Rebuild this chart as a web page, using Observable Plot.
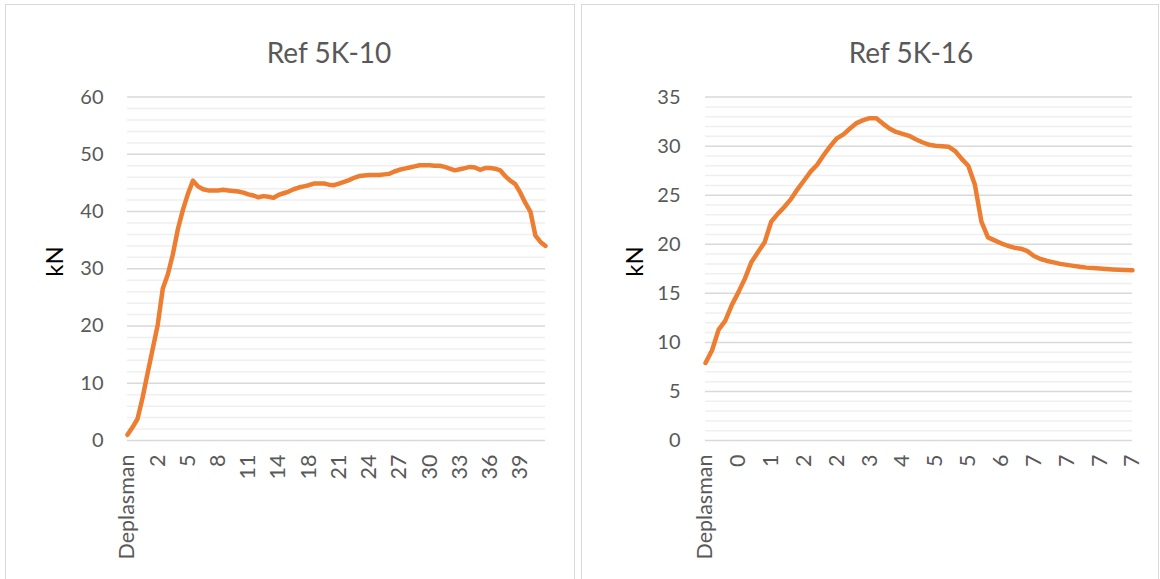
<!DOCTYPE html>
<html><head><meta charset="utf-8">
<script src="https://cdn.jsdelivr.net/npm/d3@7"></script>
<script src="https://cdn.jsdelivr.net/npm/@observablehq/plot@0.6"></script>
<style>
body{margin:0;background:#fff;width:1160px;height:579px;overflow:hidden;position:relative;font-family:Lato,"Open Sans",sans-serif;}
.panel{position:absolute;top:4px;height:600px;border:1px solid #d9d9d9;box-sizing:border-box;}
.title{position:absolute;top:38px;width:300px;font-size:28px;line-height:28px;color:#595959;text-align:center;white-space:nowrap;}
.chart{position:absolute;top:6px;}
</style></head><body>
<div class="panel" style="left:5px;width:570px"></div>
<div class="panel" style="left:581px;width:578px"></div>
<div class="title" style="left:179px">Ref 5K-10</div>
<div class="title" style="left:761px">Ref 5K-16</div>
<div id="c1" class="chart" style="left:6px"></div>
<div id="c2" class="chart" style="left:583px"></div>
<script>
// Chart 1: Ref 5K-10
const title10 = "Ref 5K-10";
const labels10 = ["Deplasman","2","5","8","11","14","18","21","24","27","30","33","36","39"];
const kN10 = [1.0,2.3,3.8,7.5,11.8,16.0,20.2,26.5,29.0,32.5,36.9,40.3,43.1,45.4,44.4,43.9,43.7,43.7,43.7,43.8,43.7,43.6,43.5,43.3,43.0,42.8,42.5,42.7,42.6,42.4,42.9,43.2,43.5,43.9,44.2,44.4,44.6,44.9,44.9,44.9,44.7,44.6,44.9,45.2,45.5,45.9,46.2,46.3,46.4,46.4,46.4,46.5,46.6,47.0,47.3,47.5,47.7,47.9,48.1,48.1,48.1,48.0,48.0,47.8,47.5,47.2,47.4,47.6,47.8,47.7,47.3,47.6,47.6,47.5,47.2,46.2,45.4,44.8,43.3,41.5,40.0,35.8,34.7,34.0];
const labelStep10 = 6;
const yMax10 = 60, yMajor10 = 10, yMinor10 = 2;

// Chart 2: Ref 5K-16
const title16 = "Ref 5K-16";
const labels16 = ["Deplasman","0","1","2","2","3","4","5","5","6","7","7","7","7"];
const kN16 = [7.9,9.2,11.3,12.2,13.8,15.1,16.5,18.2,19.2,20.2,22.3,23.1,23.8,24.6,25.6,26.5,27.4,28.1,29.1,30.0,30.8,31.2,31.8,32.35,32.65,32.85,32.85,32.3,31.8,31.45,31.25,31.05,30.7,30.4,30.15,30.05,30.0,29.95,29.5,28.7,28.0,26.1,22.3,20.7,20.4,20.1,19.85,19.65,19.55,19.3,18.8,18.5,18.3,18.15,18.0,17.9,17.8,17.7,17.62,17.57,17.52,17.47,17.43,17.4,17.37,17.35];
const labelStep16 = 5;
const yMax16 = 35, yMajor16 = 5, yMinor16 = 1;

const yLabel = "kN";

function makeChart({values, labels, step, yMax, major, minor, width, marginLeft, marginRight, yPad, labelDx}) {
  const data = values.map((v, i) => ({i, v}));
  const tickIdx = labels.map((_, k) => k * step);
  const labelMap = new Map(tickIdx.map((t, k) => [t, labels[k]]));
  const majorTicks = d3.range(0, yMax + 1e-9, major);
  const minorTicks = d3.range(0, yMax + 1e-9, minor).filter(t => !majorTicks.includes(t));
  return Plot.plot({
    width, height: 572,
    marginLeft, marginRight, marginTop: 90.6, marginBottom: 138,
    style: {background: "transparent", fontFamily: "Lato, 'Open Sans', sans-serif", fontSize: "20px", color: "#595959"},
    x: {domain: [0, values.length - 1]},
    y: {domain: [0, yMax]},
    marks: [
      Plot.ruleY(minorTicks, {stroke: "#efefef", strokeWidth: 1.5}),
      Plot.ruleY(majorTicks, {stroke: "#d9d9d9", strokeWidth: 1.5}),
      Plot.axisY({ticks: majorTicks, tickSize: 0, tickPadding: yPad, label: null}),
      Plot.axisX({ticks: tickIdx, tickFormat: d => labelMap.get(d), tickRotate: -90, tickSize: 0, tickPadding: 14, fontSize: 21.5, label: null}),
      Plot.line(data, {x: "i", y: "v", stroke: "#ED7D31", strokeWidth: 4.5, strokeLinejoin: "round", strokeLinecap: "round"}),
      Plot.text([yLabel], {frameAnchor: "left", text: d => d, rotate: -90, dx: labelDx, dy: 8, fontSize: 24, fill: "black"})
    ]
  });
}

document.getElementById("c1").append(makeChart({values: kN10, labels: labels10, step: labelStep10, yMax: yMax10, major: yMajor10, minor: yMinor10, width: 567, marginLeft: 121, marginRight: 28, yPad: 24, labelDx: -72}));
document.getElementById("c2").append(makeChart({values: kN16, labels: labels16, step: labelStep16, yMax: yMax16, major: yMajor16, minor: yMinor16, width: 572, marginLeft: 122, marginRight: 23, yPad: 25, labelDx: -70}));
</script>
</body></html>
